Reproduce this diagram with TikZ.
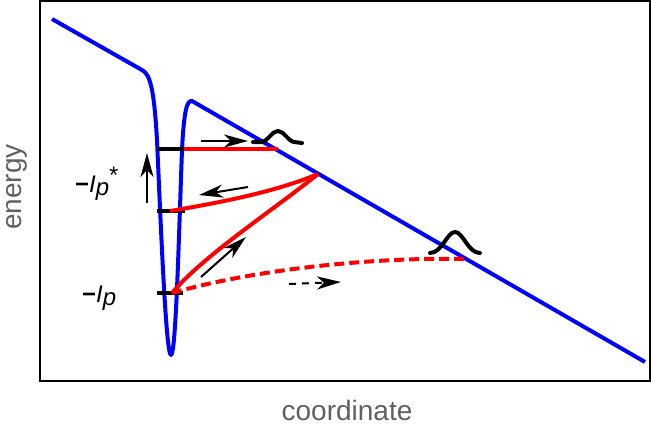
\documentclass[tikz,border=0pt]{standalone}
\usepackage{fontspec}
\setmainfont{Liberation Sans}
\usetikzlibrary{arrows.meta}
\definecolor{potblue}{RGB}{0,0,255}
\definecolor{trajred}{RGB}{255,0,0}
\definecolor{axisgray}{RGB}{96,96,96}
\tikzset{
  potential/.style={draw=potblue, line width=4pt, line join=round},
  traj/.style={draw=trajred, line width=4pt},
  trajdash/.style={draw=trajred, line width=4pt, dash pattern=on 10pt off 5pt},
  levelbar/.style={draw=black, line width=4pt},
  motion/.style={draw=black, line width=2pt, -{Stealth[length=24pt,width=13pt,inset=7pt]}},
  wavepkt/.style={draw=black, line width=4pt, line cap=round},
  axislabel/.style={text=axisgray, font=\fontsize{28}{28}\selectfont, inner sep=0pt},
  levellabel/.style={text=black, font=\fontsize{24}{24}\selectfont, inner sep=0pt}
}
\begin{document}
\begin{tikzpicture}[x=1pt,y=-1pt]
\useasboundingbox (0,0) rectangle (651,429);
% frame
\draw[line width=2pt] (40,1) rectangle (650,381);
% potential
\path[potential] (52,19) -- (142,70)
  .. controls (150,74) and (154,88) .. (157,140)
  .. controls (161,230) and (166,355) .. (171,355)
  .. controls (176,355) and (179,230) .. (182,150)
  .. controls (184,110) and (187,100) .. (192,101)
  -- (645,362);
% coordinates
\coordinate (top0) at (157,149);
\coordinate (top1) at (184,149);
\coordinate (topexit) at (278,149);
\coordinate (mid0) at (157,211);
\coordinate (mid1) at (185,211);
\coordinate (midstart) at (170,211);
\coordinate (turn) at (318,174);
\coordinate (bot0) at (157,293);
\coordinate (bot1) at (183,293);
\coordinate (botstart) at (172,293);
\coordinate (tunnel) at (466,259);
% level bars
\path[levelbar] (top0) -- (top1);
\path[levelbar] (mid0) -- (mid1);
\path[levelbar] (bot0) -- (bot1);
% trajectories
\path[traj] (top1) -- (topexit);
\path[traj] (midstart) .. controls (230,201) and (280,190) .. (turn);
\path[traj] (turn) .. controls (272,211) and (203,256) .. (botstart);
\path[trajdash] (botstart) .. controls (260,268) and (380,257) .. (tunnel);
% wave packets
\path[wavepkt] (253,142) -- (262,142) .. controls (268,141) and (272,131) .. (278,131)
  .. controls (284,131) and (288,141) .. (294,142) -- (302,143);
\path[wavepkt] (430,253) .. controls (442,253) and (447,232) .. (455,232)
  .. controls (463,232) and (468,253) .. (480,253);
% motion arrows
\coordinate (a1s) at (201,141); \coordinate (a1e) at (248,141);
\coordinate (a2s) at (147,203); \coordinate (a2e) at (147,153);
\coordinate (a3s) at (248,187); \coordinate (a3e) at (199,195);
\coordinate (a4s) at (201,277); \coordinate (a4e) at (246,237);
\coordinate (a5s) at (289,284); \coordinate (a5e) at (341,282);
\draw[motion] (a1s) -- (a1e);
\draw[motion] (a2s) -- (a2e);
\draw[motion] (a3s) -- (a3e);
\draw[motion] (a4s) -- (a4e);
\draw[motion, dash pattern=on 7pt off 6pt] (a5s) -- (a5e);
% labels
\node[levellabel, anchor=base west] (lpstar) at (75,192) {\textbf{−}\textit{I}\raisebox{-3pt}{\textit{p}}\raisebox{9pt}{*}};
\node[levellabel, anchor=base west] (lp) at (82,302) {\textbf{−}\textit{I}\raisebox{-3pt}{\textit{p}}};
\node[axislabel, rotate=90, anchor=center] (ylab) at (17,187) {energy};
\node[axislabel, anchor=center] (xlab) at (347,410) {coordinate};
\end{tikzpicture}
\end{document}
